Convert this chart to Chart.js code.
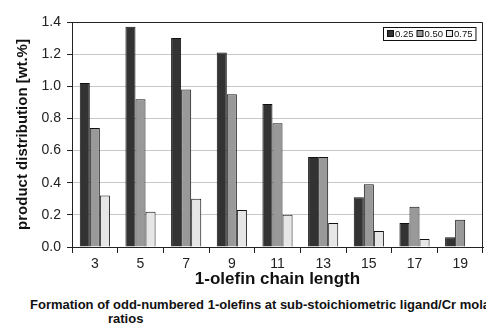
<!DOCTYPE html>
<html>
<head>
<meta charset="utf-8">
<script src="https://cdn.jsdelivr.net/npm/chart.js@4"></script>
<style>
  body { margin: 0; background: #fff; }
  #wrap { position: relative; width: 486px; height: 323px; overflow: hidden; }
  .cap {
    position: absolute; font: bold 13px "Liberation Sans", Arial, sans-serif; color: #111;
    white-space: nowrap; line-height: 14px;
  }
</style>
</head>
<body>
<div id="wrap">
  <canvas id="myChart" width="486" height="290"></canvas>
  <div class="cap" style="left:30px; top:298px;">Formation of odd-numbered 1-olefins at sub-stoichiometric ligand/Cr molar</div>
  <div class="cap" style="left:108px; top:312px;">ratios</div>
</div>
<script>
const chainLengths = ["3", "5", "7", "9", "11", "13", "15", "17", "19"];
const ratio025 = [1.02, 1.37, 1.30, 1.21, 0.89, 0.56, 0.31, 0.15, 0.06];
const ratio050 = [0.74, 0.92, 0.98, 0.95, 0.77, 0.56, 0.39, 0.25, 0.17];
const ratio075 = [0.32, 0.22, 0.30, 0.23, 0.20, 0.15, 0.10, 0.05, 0];
const yTicks = [0, 0.2, 0.4, 0.6, 0.8, 1.0, 1.2, 1.4];

// frame on top/right of plot, plus the small boxed legend in the corner
const boxPlugin = {
  id: "boxes",
  afterDraw(chart) {
    const ctx = chart.ctx;
    const a = chart.chartArea;
    ctx.save();
    ctx.strokeStyle = "#222";
    ctx.lineWidth = 1;
    ctx.beginPath();
    ctx.moveTo(a.left, a.top + 0.5);
    ctx.lineTo(a.right - 0.5, a.top + 0.5);
    ctx.lineTo(a.right - 0.5, a.bottom);
    ctx.stroke();

    ctx.font = "9.5px 'Liberation Sans'";
    ctx.textBaseline = "middle";
    const sets = chart.data.datasets;
    let w = 4;
    sets.forEach((ds) => { w += 8 + ctx.measureText(ds.label).width + 3; });
    const lx = Math.round(a.right - 8 - w), ly = a.top + 5, lh = 13;
    ctx.fillStyle = "#fff";
    ctx.fillRect(lx, ly, w, lh);
    ctx.strokeStyle = "#111";
    ctx.strokeRect(lx + 0.5, ly + 0.5, w, lh);
    let x = lx + 4;
    sets.forEach((ds) => {
      ctx.fillStyle = ds.backgroundColor;
      ctx.fillRect(x + 0.5, ly + 3.5, 6, 6);
      ctx.strokeRect(x + 0.5, ly + 3.5, 6, 6);
      ctx.fillStyle = "#111";
      ctx.fillText(ds.label, x + 8, ly + 7);
      x += 8 + ctx.measureText(ds.label).width + 3;
    });
    ctx.restore();
  }
};

const ctx = document.getElementById("myChart");
new Chart(ctx, {
  type: "bar",
  data: {
    labels: chainLengths,
    datasets: [
      { label: "0.25", data: ratio025, backgroundColor: "#333333" },
      { label: "0.50", data: ratio050, backgroundColor: "#999999" },
      { label: "0.75", data: ratio075, backgroundColor: "#e6e6e6" }
    ]
  },
  options: {
    responsive: false,
    animation: false,
    layout: { padding: { top: 22, right: 3, left: 0, bottom: 0 } },
    datasets: {
      bar: {
        borderColor: "#111",
        borderWidth: 1,
        categoryPercentage: 0.66,
        barPercentage: 1.0
      }
    },
    plugins: {
      legend: { display: false },
      tooltip: { enabled: false }
    },
    scales: {
      x: {
        afterFit(axis) { axis.height = 43; },
        grid: { display: true, drawOnChartArea: false, offset: true, tickLength: 6, color: "#222" },
        border: { color: "#222" },
        ticks: { color: "#222", font: { family: "Liberation Sans", size: 14 }, padding: 3 },
        title: {
          display: true,
          text: "1-olefin chain length",
          color: "#111",
          font: { family: "Liberation Sans", size: 17, weight: "bold" },
          padding: { top: 0, bottom: 0 }
        }
      },
      y: {
        min: 0,
        max: 1.4,
        afterFit(axis) { axis.width = 72; },
        afterBuildTicks(axis) { axis.ticks = yTicks.map((v) => ({ value: v })); },
        grid: { color: "#c8c8c8", tickLength: 5, tickColor: "#222" },
        border: { color: "#222" },
        ticks: {
          color: "#222",
          font: { family: "Liberation Sans", size: 14 },
          padding: 6,
          callback: (v) => v.toFixed(1)
        },
        title: {
          display: true,
          text: "product distribution [wt.%]",
          color: "#111",
          font: { family: "Liberation Sans", size: 15, weight: "bold" },
          padding: { top: 14, bottom: 0 }
        }
      }
    }
  },
  plugins: [boxPlugin]
});
</script>
</body>
</html>
